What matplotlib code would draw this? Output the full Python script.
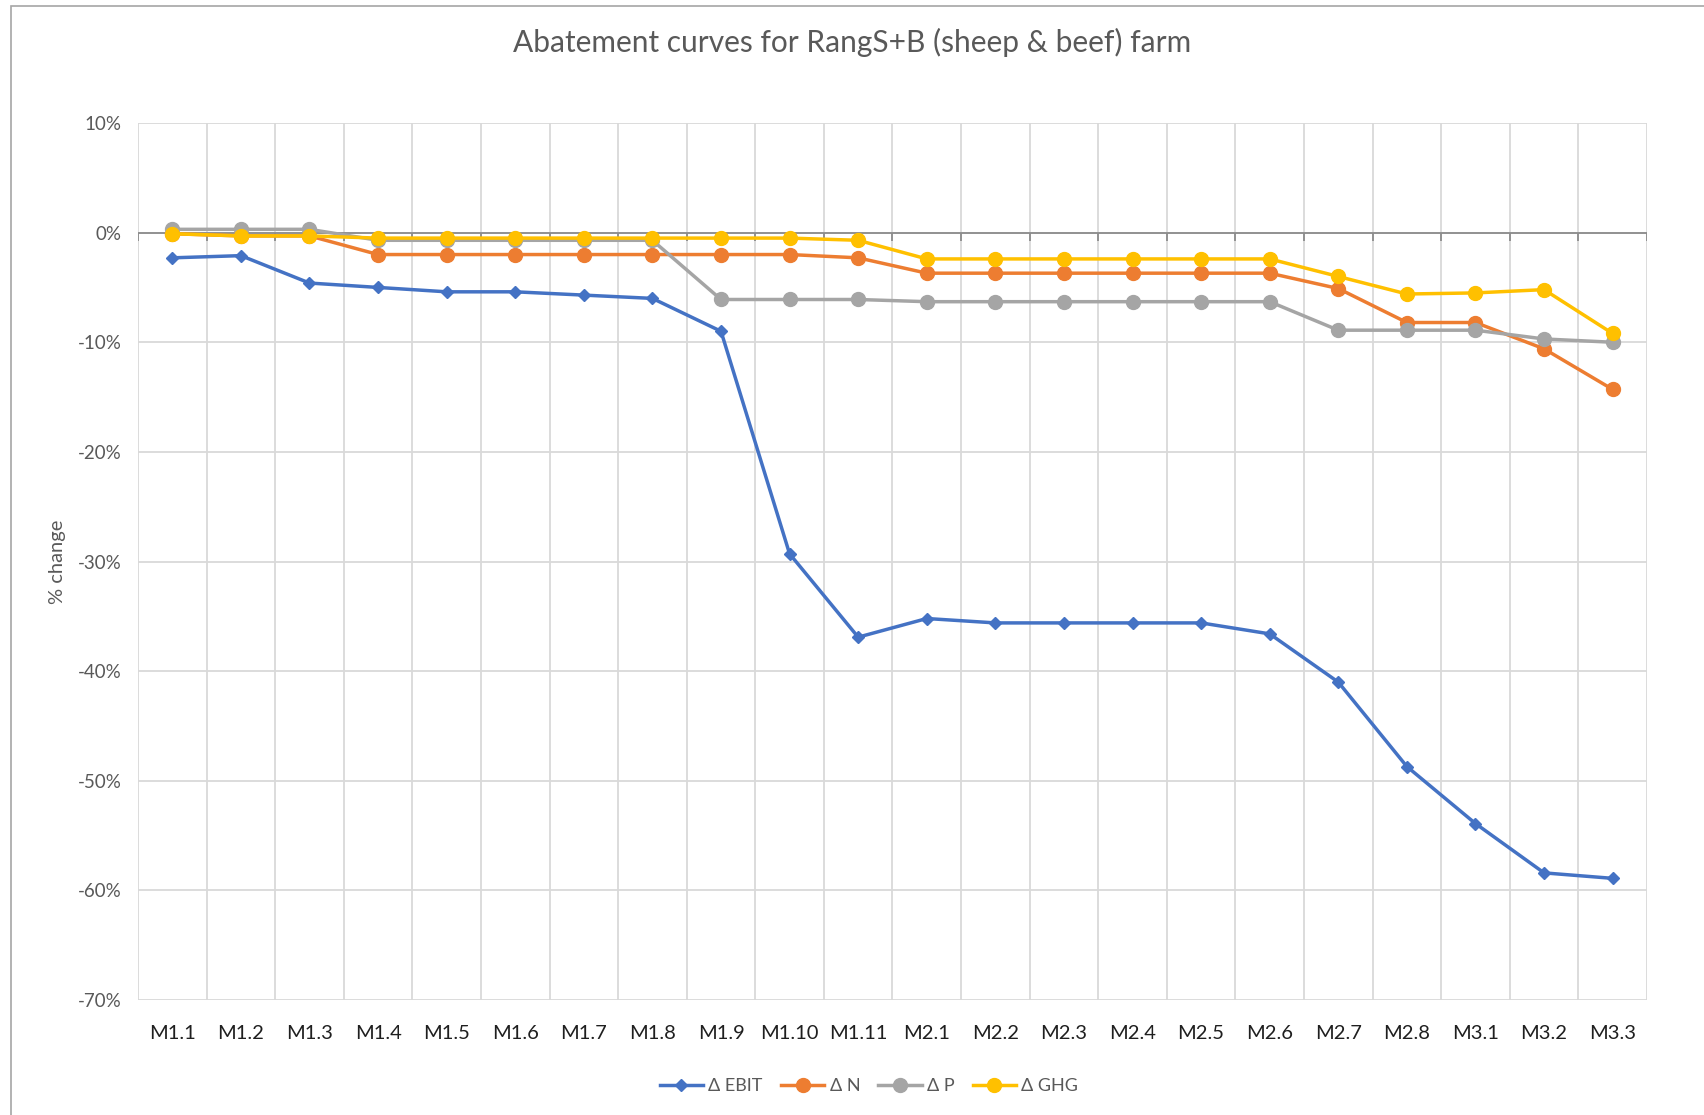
import numpy as np
import matplotlib.pyplot as plt
from matplotlib.patches import Rectangle

plt.rcParams['font.family'] = ['Lato', 'DejaVu Sans']

# categories (measures)
measures = ['M1.1', 'M1.2', 'M1.3', 'M1.4', 'M1.5', 'M1.6', 'M1.7', 'M1.8', 'M1.9',
            'M1.10', 'M1.11', 'M2.1', 'M2.2', 'M2.3', 'M2.4', 'M2.5', 'M2.6', 'M2.7',
            'M2.8', 'M3.1', 'M3.2', 'M3.3']

# % change per series
d_ebit = [-2.3, -2.1, -4.6, -5.0, -5.4, -5.4, -5.7, -6.0, -9.0, -29.3, -36.9,
          -35.2, -35.6, -35.6, -35.6, -35.6, -36.6, -41.0, -48.7, -53.9, -58.4, -58.9]
d_n = [-0.1, -0.3, -0.3, -2.0, -2.0, -2.0, -2.0, -2.0, -2.0, -2.0, -2.3,
       -3.7, -3.7, -3.7, -3.7, -3.7, -3.7, -5.1, -8.2, -8.2, -10.6, -14.3]
d_p = [0.3, 0.3, 0.3, -0.7, -0.7, -0.7, -0.7, -0.7, -6.1, -6.1, -6.1,
       -6.3, -6.3, -6.3, -6.3, -6.3, -6.3, -8.9, -8.9, -8.9, -9.7, -10.0]
d_ghg = [-0.1, -0.3, -0.3, -0.5, -0.5, -0.5, -0.5, -0.5, -0.5, -0.5, -0.7,
         -2.4, -2.4, -2.4, -2.4, -2.4, -2.4, -4.0, -5.6, -5.5, -5.2, -9.2]

y_ticks = [10, 0, -10, -20, -30, -40, -50, -60, -70]

fig = plt.figure(figsize=(17.04, 11.15), dpi=100)
ax = fig.add_axes([0.081, 0.1031, 0.8855, 0.7866])

x = np.arange(len(measures))
grid_c = '#D9D9D9'

# gridlines: horizontal at y ticks, vertical between categories
ax.set_ylim(-70, 10)
ax.set_xlim(-0.5, len(measures) - 0.5)
ax.set_yticks(y_ticks)
ax.set_yticklabels([f'{v}%' for v in y_ticks])
ax.set_xticks(x)
ax.set_xticklabels(measures)
ax.set_xticks(np.arange(len(measures) + 1) - 0.5, minor=True)
ax.grid(True, axis='y', color=grid_c, lw=1.3)
ax.grid(True, axis='x', which='minor', color=grid_c, lw=1.3)
ax.set_axisbelow(True)
for s in ax.spines.values():
    s.set_visible(False)
ax.tick_params(axis='both', which='both', length=0)
ax.tick_params(axis='x', labelsize=14.5, labelcolor='#1F1F1F', pad=18)
ax.tick_params(axis='y', labelsize=13.5, labelcolor='#595959', pad=12)

# zero line with tick marks below it
ax.axhline(0, color='#8C8C8C', lw=1.3, zorder=1)
ax.vlines(np.arange(len(measures) + 1) - 0.5, -0.75, 0, color='#8C8C8C', lw=1.3, zorder=1)

l1, = ax.plot(x, d_ebit, color='#4472C4', lw=2.5, marker='D', ms=6.5, zorder=3)
l2, = ax.plot(x, d_n, color='#ED7D31', lw=2.5, marker='o', ms=10, zorder=3)
l3, = ax.plot(x, d_p, color='#A5A5A5', lw=2.5, marker='o', ms=10, zorder=3)
l4, = ax.plot(x, d_ghg, color='#FFC000', lw=2.5, marker='o', ms=10, zorder=4)

ax.set_ylabel('% change', fontsize=14.5, color='#595959', labelpad=8)

fig.suptitle('Abatement curves for RangS+B (sheep & beef) farm', y=0.975,
             fontsize=21.5, color='#595959')

fig.legend([l1, l2, l3, l4], ['Δ EBIT', 'Δ N', 'Δ P', 'Δ GHG'], loc='center',
           bbox_to_anchor=(0.51, 0.026), ncol=4, frameon=False, fontsize=13,
           labelcolor='#595959', handlelength=2.4, columnspacing=1.0, handletextpad=0.3)

# outer chart border
fig.patches.append(Rectangle((0.0064, -0.01), 1.1, 1.005, transform=fig.transFigure,
                             fill=False, edgecolor='#A6A6A6', lw=1.2))

plt.savefig('out.png', dpi=100)
